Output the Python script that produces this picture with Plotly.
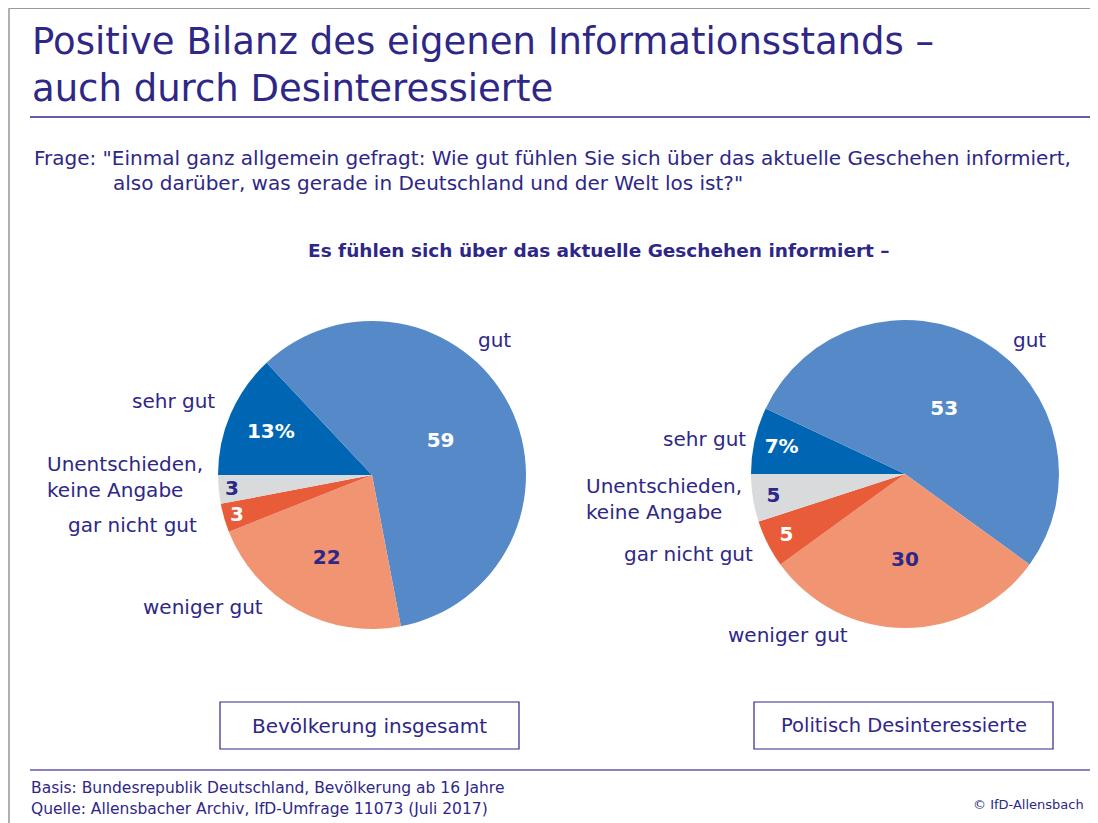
import plotly.graph_objects as go

# The page body adds an 8px margin, so the figure is shifted by OFF pixels;
# reference pixel coordinates are mapped back into figure coordinates.
OFF = 8
W, H = 1098 - OFF, 823 - OFF

categories = ["sehr gut", "gut", "weniger gut", "gar nicht gut", "Unentschieden,<br>keine Angabe"]
values_total = [13, 59, 22, 3, 3]
values_desint = [7, 53, 30, 5, 5]
text_total = ["13%", "59", "22", "3", "3"]
text_desint = ["7%", "53", "30", "5", "5"]
group_labels = ["Bevölkerung insgesamt", "Politisch Desinteressierte"]

colors = ["#0066b3", "#5589c8", "#f09472", "#e85c3a", "#d9dadb"]
text_colors = ["#ffffff", "#ffffff", "#2e2787", "#ffffff", "#2e2787"]
INK = "#2e2787"
FONT = "DejaVu Sans"


def px(x):
    return (x - OFF) / W


def py(y):
    return 1 - (y - OFF) / H


fig = go.Figure()

pies = [
    (values_total, text_total, 372, 475, 154),
    (values_desint, text_desint, 905, 474, 154),
]
for vals, txt_, cx, cy, r in pies:
    fig.add_trace(go.Pie(
        labels=categories, values=vals, text=txt_,
        textinfo="text", textposition="inside",
        insidetextorientation="horizontal",
        textfont=dict(family=FONT, size=20, color=text_colors, weight="bold"),
        marker=dict(colors=colors, line=dict(width=0)),
        sort=False, direction="clockwise", rotation=270,
        domain=dict(x=[px(cx - r), px(cx + r)], y=[py(cy + r), py(cy - r)]),
        showlegend=False, hoverinfo="label+value",
    ))

ann = []


def txt(x, y, s, size=20, xa="left", ya="middle", color=INK, bold=False, align="left"):
    ann.append(dict(x=px(x), y=py(y), xref="paper", yref="paper", text=s,
                    showarrow=False, xanchor=xa, yanchor=ya, align=align,
                    font=dict(family=FONT, size=size, color=color,
                              weight="bold" if bold else "normal")))


# Title
txt(30, 42, "Positive Bilanz des eigenen Informationsstands –", size=37)
txt(30, 89, "auch durch Desinteressierte", size=37)
# Question
txt(32, 158, 'Frage: "Einmal ganz allgemein gefragt: Wie gut fühlen Sie sich über das aktuelle Geschehen informiert,', size=20)
txt(111, 183, 'also darüber, was gerade in Deutschland und der Welt los ist?"', size=20)
# Subtitle
txt(599, 250, "Es fühlen sich über das aktuelle Geschehen informiert –", size=18.5, xa="center", bold=True)

# Slice labels: left pie
txt(476, 340, categories[1])
txt(217, 401, categories[0], xa="right")
txt(45, 477, categories[4], align="left")
txt(199, 525, categories[3], xa="right")
txt(265, 607, categories[2], xa="right")
# Slice labels: right pie
txt(1011, 340, categories[1])
txt(748, 439, categories[0], xa="right")
txt(584, 499, categories[4], align="left")
txt(755, 554, categories[3], xa="right")
txt(850, 635, categories[2], xa="right")

# Group boxes
txt(369.5, 725.5, group_labels[0], size=20, xa="center")
txt(903.5, 725.5, group_labels[1], size=19.5, xa="center")

# Footer
txt(29, 788, "Basis: Bundesrepublik Deutschland, Bevölkerung ab 16 Jahre", size=15.5)
txt(29, 809, "Quelle: Allensbacher Archiv, IfD-Umfrage 11073 (Juli 2017)", size=15.5)
txt(1086, 804, "© IfD-Allensbach", size=13, xa="right")

shapes = [
    # frame
    dict(type="line", x0=px(8), x1=px(1098), y0=py(8), y1=py(8), line=dict(color="#9a9a9a", width=2)),
    dict(type="line", x0=px(9), x1=px(9), y0=py(8), y1=py(823), line=dict(color="#b0b0b0", width=2)),
    # title rule
    dict(type="line", x0=px(30), x1=px(1098), y0=py(117), y1=py(117), line=dict(color=INK, width=1.5)),
    # footer rule
    dict(type="line", x0=px(30), x1=px(1098), y0=py(770), y1=py(770), line=dict(color="#8a83c2", width=2)),
    # boxes
    dict(type="rect", x0=px(220), x1=px(519), y0=py(702), y1=py(749), line=dict(color=INK, width=1.2)),
    dict(type="rect", x0=px(754), x1=px(1053), y0=py(702), y1=py(749), line=dict(color=INK, width=1.2)),
]

fig.update_layout(
    width=W, height=H,
    margin=dict(l=0, r=0, t=0, b=0),
    paper_bgcolor="white", plot_bgcolor="white",
    annotations=ann, shapes=shapes,
    uniformtext=dict(minsize=20, mode="show"),
)

fig.write_html("out.html")
